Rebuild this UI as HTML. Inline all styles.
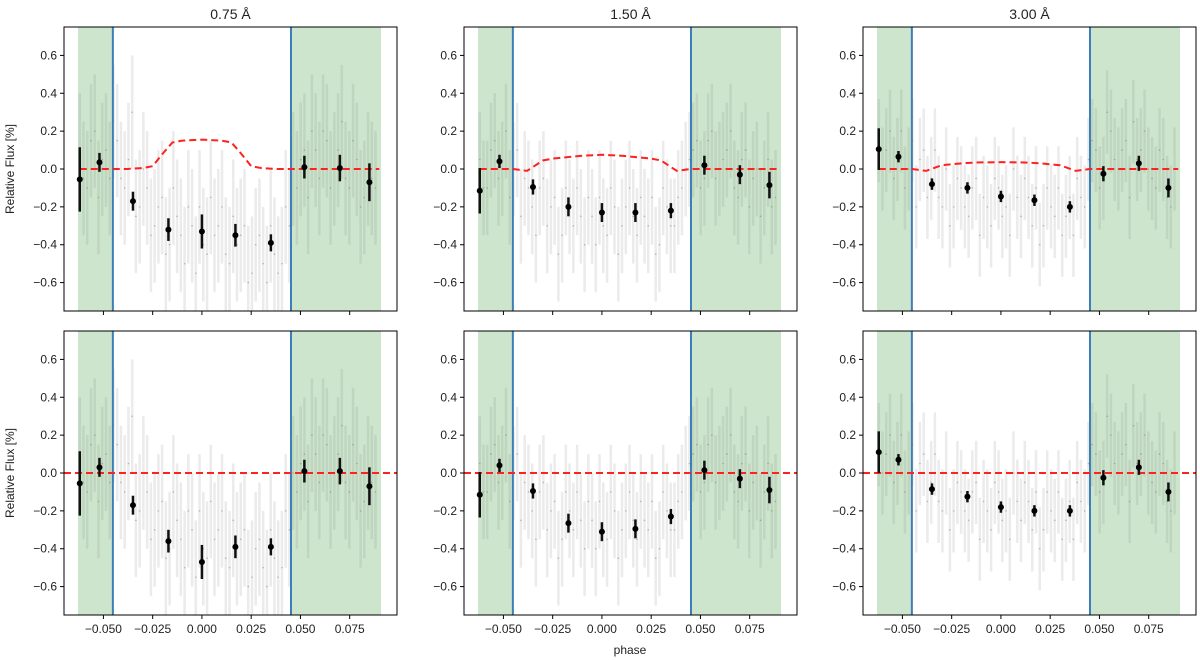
<!DOCTYPE html>
<html><head><meta charset="utf-8"><style>
body{margin:0;background:#fff;}
svg{display:block;font-family:"Liberation Sans","DejaVu Sans",sans-serif;}
</style></head><body>
<svg id="fig" width="1200" height="660" viewBox="0 0 1200 660"></svg>
<script>
// ---- data ----
const titles = ["0.75 Å","1.50 Å","3.00 Å"];
const binX = [-0.062,-0.052,-0.035,-0.017,0.0,0.017,0.035,0.052,0.070,0.085];
const binYTop1 = [-0.055,0.035,-0.17,-0.32,-0.33,-0.35,-0.39,0.01,0.005,-0.07];
const binETop1 = [0.17,0.05,0.05,0.06,0.09,0.06,0.045,0.06,0.07,0.1];
const binYBot1 = [-0.055,0.03,-0.17,-0.36,-0.47,-0.39,-0.39,0.01,0.01,-0.07];
const binEBot1 = [0.17,0.05,0.05,0.06,0.09,0.06,0.045,0.06,0.07,0.1];
const binYTop2 = [-0.115,0.04,-0.095,-0.2,-0.23,-0.23,-0.22,0.02,-0.03,-0.085];
const binETop2 = [0.12,0.035,0.04,0.05,0.05,0.05,0.04,0.05,0.05,0.07];
const binYBot2 = [-0.115,0.04,-0.095,-0.265,-0.31,-0.295,-0.23,0.015,-0.03,-0.09];
const binEBot2 = [0.12,0.035,0.04,0.05,0.05,0.05,0.04,0.05,0.05,0.07];
const binYTop3 = [0.105,0.065,-0.08,-0.1,-0.145,-0.165,-0.2,-0.025,0.03,-0.1];
const binETop3 = [0.11,0.03,0.03,0.03,0.03,0.03,0.03,0.04,0.04,0.05];
const binYBot3 = [0.11,0.07,-0.085,-0.125,-0.18,-0.2,-0.2,-0.025,0.03,-0.1];
const binEBot3 = [0.11,0.03,0.03,0.03,0.03,0.03,0.03,0.04,0.04,0.05];
const modelX = [-0.062,-0.045,-0.038,-0.03,-0.025,-0.02,-0.015,-0.01,0,0.01,0.015,0.02,0.025,0.03,0.038,0.045,0.09];
const modelY1 = [0,0,0,0.005,0.015,0.08,0.14,0.15,0.155,0.15,0.14,0.08,0.015,0.005,0,0,0];
const modelY2 = [0,0,-0.01,0.045,0.055,0.06,0.065,0.07,0.075,0.07,0.065,0.06,0.055,0.045,-0.01,0,0];
const modelY3 = [0,0,-0.01,0.02,0.025,0.03,0.033,0.035,0.036,0.035,0.033,0.03,0.025,0.02,-0.01,0,0];
const greyY1 = [0.1,-0.1,0.2,0.05,-0.05,0.15,-0.1,0.3,-0.2,-0.1,-0.3,-0.15,-0.4,-0.25,-0.5,-0.3,-0.2,-0.45,-0.35,-0.2,-0.5,-0.4,-0.3,-0.55,-0.35,-0.6,-0.45,-0.5,-0.3,-0.1,0.1,0.2,-0.05,0.15,0.0,0.25,-0.1,0.05,-0.15,-0.05];
const greyB1 = [-0.05,0.15,-0.15,0.1,0.25,-0.05,0.05,-0.25,0.0,-0.35,-0.2,-0.45,-0.1,-0.35,-0.2,-0.55,-0.4,-0.15,-0.3,-0.45,-0.25,-0.35,-0.6,-0.4,-0.5,-0.3,-0.55,-0.2,0.0,0.05,-0.15,0.1,0.2,-0.1,0.1,-0.05,0.15,-0.2,0.0,-0.1];
const greyY2 = [0.05,-0.1,0.15,0.0,-0.15,0.1,-0.05,-0.2,-0.1,-0.3,-0.15,-0.35,-0.2,-0.1,-0.4,-0.25,-0.15,-0.35,-0.2,-0.3,-0.1,-0.35,-0.25,-0.15,-0.4,-0.2,-0.3,-0.1,0.05,0.15,-0.05,0.2,0.0,0.1,-0.1,0.05,-0.2,0.0,-0.1,-0.2];
const greyB2 = [-0.1,0.1,-0.05,0.2,0.0,-0.25,-0.1,-0.35,-0.05,-0.2,-0.45,-0.1,-0.3,-0.25,-0.15,-0.4,-0.3,-0.1,-0.45,-0.2,-0.25,-0.15,-0.3,-0.45,-0.1,-0.3,-0.15,0.0,0.1,-0.1,0.15,-0.05,0.05,0.2,-0.15,0.1,-0.05,-0.25,0.05,-0.15];
const greyY3 = [0.15,0.1,-0.05,0.2,0.0,-0.2,0.1,-0.05,-0.15,0.0,-0.2,-0.1,-0.25,-0.05,-0.15,-0.3,-0.1,-0.2,0.0,-0.25,-0.15,-0.1,-0.3,-0.2,-0.1,-0.25,-0.35,-0.15,0.05,0.1,-0.05,0.2,0.0,0.15,0.25,0.1,0.0,-0.1,0.05,-0.2];
const greyB3 = [0.0,0.2,0.05,-0.1,0.15,0.05,-0.15,0.1,-0.2,-0.3,-0.05,-0.2,-0.1,-0.35,-0.2,-0.05,-0.25,-0.35,-0.15,-0.05,-0.3,-0.4,-0.1,-0.25,-0.35,-0.15,-0.05,-0.2,0.15,-0.1,0.3,0.05,0.1,-0.15,0.05,0.2,-0.05,0.1,-0.15,0.0];
const greyE = [0.3,0.25,0.22];
const yTicks = [-0.6,-0.4,-0.2,0.0,0.2,0.4,0.6];
const yTickLabels = ["−0.6","−0.4","−0.2","0.0","0.2","0.4","0.6"];
const xTicks = [-0.05,-0.025,0,0.025,0.05,0.075];
const xTickLabels = ["−0.050","−0.025","0.000","0.025","0.050","0.075"];

const panels = [
 [binYTop1,binETop1,modelY1,greyY1,greyB1,0,0],[binYTop2,binETop2,modelY2,greyY2,greyB2,1,0],[binYTop3,binETop3,modelY3,greyY3,greyB3,2,0],
 [binYBot1,binEBot1,null,greyY1,greyB1,0,1],[binYBot2,binEBot2,null,greyY2,greyB2,1,1],[binYBot3,binEBot3,null,greyY3,greyB3,2,1]];

const NS="http://www.w3.org/2000/svg";
const svg=document.getElementById('fig');
function mk(tag,attrs,parent){const e=document.createElementNS(NS,tag);for(const k in attrs)e.setAttribute(k,attrs[k]);(parent||svg).appendChild(e);return e;}

const X0=[64,464,863], W=333, Y0=[27,331], H=284;
const XMIN=-0.070, XMAX=0.099, YMIN=-0.75, YMAX=0.75;

panels.forEach((p,idx)=>{
 const [by,be,my,gy,gb,col,row]=p;
 const left=X0[col], top=Y0[row];
 const sx=v=>left+(v-XMIN)/(XMAX-XMIN)*W;
 const sy=v=>top+(YMAX-v)/(YMAX-YMIN)*H;
 const g=mk('g',{});
 
 
 const cp='clip'+idx;
 const cl=mk('clipPath',{id:cp},g); mk('rect',{x:left,y:top,width:W,height:H},cl);
 const inner=mk('g',{'clip-path':'url(#'+cp+')'},g);
 let r=mk('rect',{x:sx(-0.0629),y:top,width:sx(-0.0452)-sx(-0.0629),height:H,fill:'#cce5cc'},inner);
  
 r=mk('rect',{x:sx(0.0452),y:top,width:sx(0.0909)-sx(0.0452),height:H,fill:'#cce5cc'},inner);
  
 const drawGrey=(arr,off)=>arr.forEach((v,i)=>{
  const x=-0.062+off+i*0.0038;
  const ln=mk('line',{x1:sx(x),x2:sx(x),y1:sy(v+greyE[col]),y2:sy(v-greyE[col]),stroke:'rgba(128,128,128,0.16)','stroke-width':2.5},inner);
   
  mk('circle',{cx:sx(x),cy:sy(v),r:0.8,fill:'rgba(100,100,100,0.4)'},inner);
 });
 drawGrey(gy,0); drawGrey(gb,0.0019);
 [-0.0452,0.0452].forEach(v=>{
  const l=mk('line',{x1:sx(v),x2:sx(v),y1:top,y2:top+H,stroke:'#3a7fb8','stroke-width':2},inner);
   
 });
 let pts;
 if(my){pts=modelX.map((x,i)=>sx(x)+','+sy(my[i])).join(' ');}
 else {pts=(left)+','+sy(0)+' '+(left+W)+','+sy(0);}
 const pl=mk('polyline',{points:pts,fill:'none',stroke:'#ff2020','stroke-width':2,'stroke-dasharray':'7,4'},inner);
  
 binX.forEach((x,i)=>{
  const l=mk('line',{x1:sx(x),x2:sx(x),y1:sy(by[i]+be[i]),y2:sy(by[i]-be[i]),stroke:'#111','stroke-width':2.5},inner);
   
  const c=mk('circle',{cx:sx(x),cy:sy(by[i]),r:3,fill:'#000'},inner);
   
 });
 const fr=mk('rect',{x:left,y:top,width:W,height:H,fill:'none',stroke:'#000','stroke-width':1},g);
  
 yTicks.forEach((v,i)=>{
  mk('line',{x1:left-4,x2:left,y1:sy(v),y2:sy(v),stroke:'#000'},g);
  const t=mk('text',{x:left-7,y:sy(v)+4,'text-anchor':'end','font-size':12,fill:'#222'},g);
  t.textContent=yTickLabels[i];
   
 });
 xTicks.forEach((v,i)=>{
  mk('line',{x1:sx(v),x2:sx(v),y1:top+H,y2:top+H+4,stroke:'#000'},g);
  if(row===1){
   const t=mk('text',{x:sx(v),y:top+H+18,'text-anchor':'middle','font-size':12,fill:'#222'},g);
   t.textContent=xTickLabels[i];
    
  }
 });
 if(row===0){
  const t=mk('text',{x:left+W/2,y:19,'text-anchor':'middle','font-size':14,fill:'#222'},g);
  t.textContent=titles[col];
   
 }
 if(col===0){
  const t=mk('text',{x:14,y:top+H/2,'text-anchor':'middle','font-size':12,fill:'#222',transform:'rotate(-90 14 '+(top+H/2)+')'},g);
  t.textContent='Relative Flux [%]';
   
 }
});
const xt=mk('text',{x:630,y:654,'text-anchor':'middle','font-size':12,fill:'#222'});
xt.textContent='phase';


</script>
</body></html>
